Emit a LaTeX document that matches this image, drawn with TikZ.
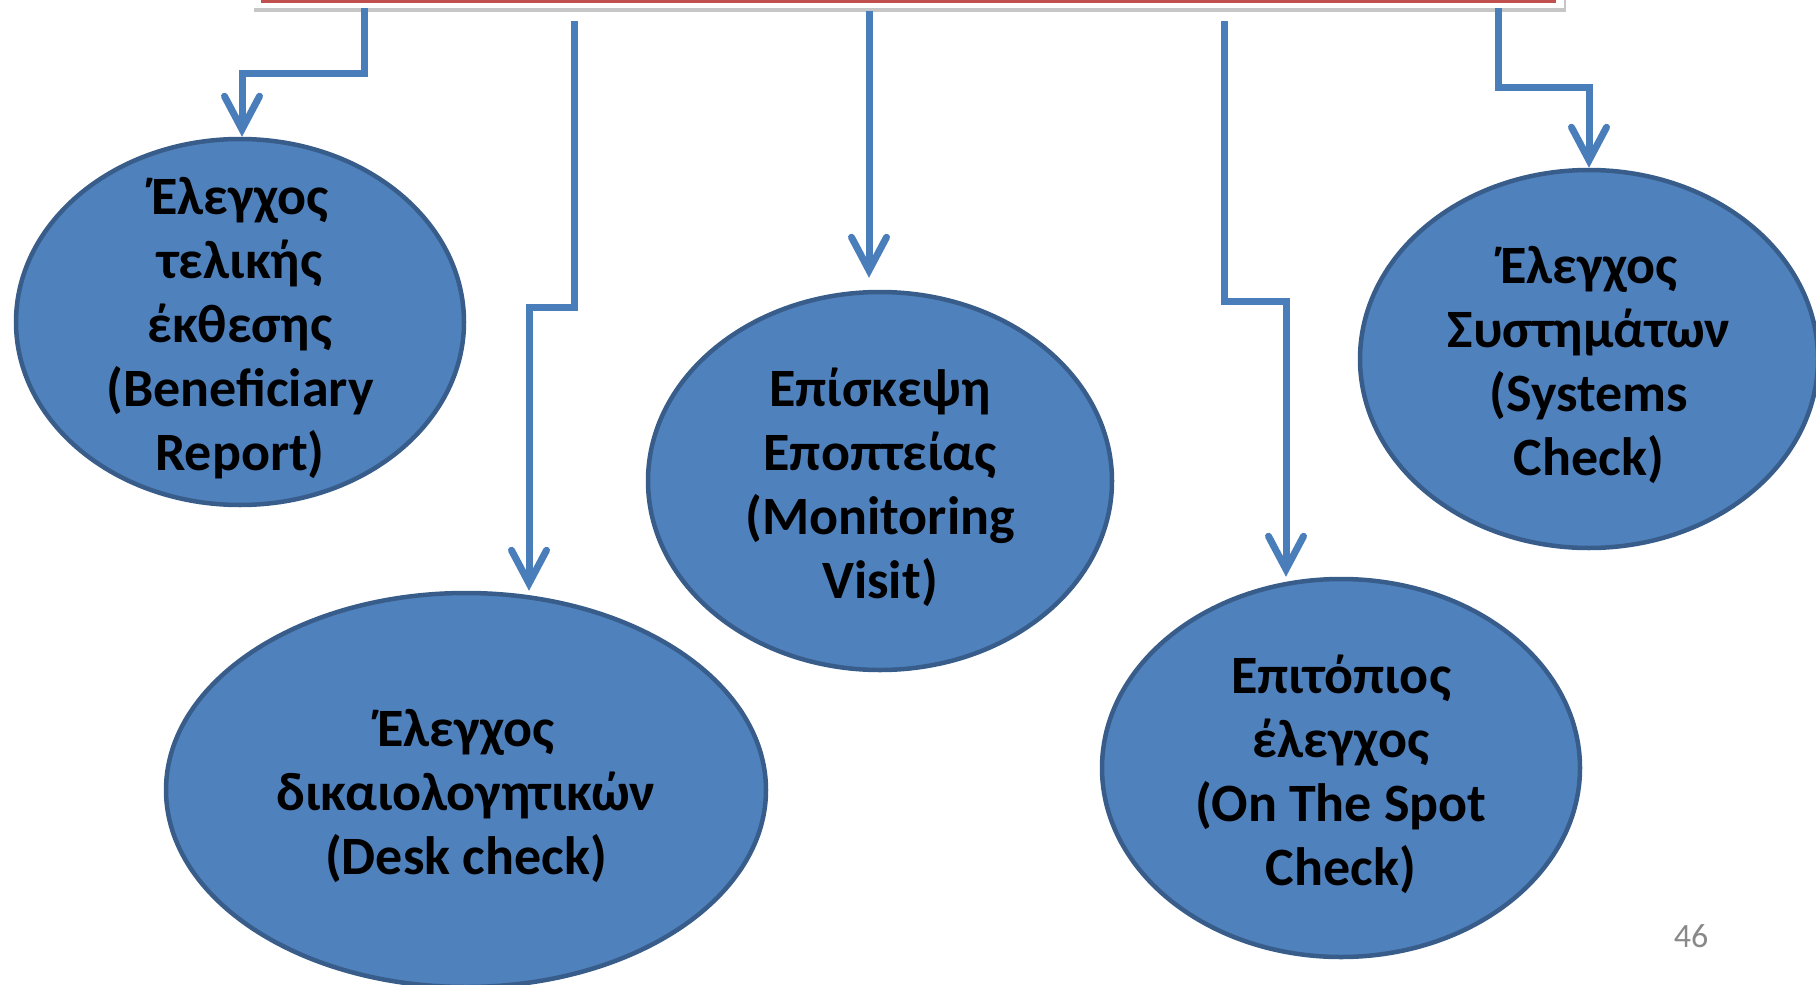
\documentclass[tikz,border=0pt]{standalone}
\usepackage{fontspec}
\setmainfont{Carlito}
\usetikzlibrary{shapes.geometric, arrows.meta, shadows}

\definecolor{ovalfill}{HTML}{4F81BD}
\definecolor{ovaledge}{HTML}{385D8A}
\definecolor{linkblue}{HTML}{4A7EBB}
\definecolor{titlered}{HTML}{C0504D}
\definecolor{pagegray}{HTML}{898989}

\begin{document}
\begin{tikzpicture}[x=1pt, y=-1pt,
  oval/.style={ellipse, draw=ovaledge, line width=4.5pt, fill=ovalfill, inner sep=0pt},
  ovaltext/.style={align=center, text=black, yshift=-6pt, font=\fontsize{54}{64}\selectfont\bfseries},
  link/.style={draw=linkblue, line width=7pt, -{Straight Barb[length=33pt, width=35pt, line cap=round]}}]

  \useasboundingbox (0,0) rectangle (1816,985);

  % Panel at the top, cut by the page edge
  \node[fill=white, drop shadow={shadow xshift=2pt, shadow yshift=-4pt, opacity=0.45, fill=gray},
        minimum width=1312pt, minimum height=70pt, inner sep=0pt] (panel) at (908,-27) {};
  \draw[titlered, line width=2.5pt] (261,1.5) -- (1556,1.5);

  % Ovals
  \node[oval, minimum width=448pt, minimum height=366pt,
        label={[ovaltext]center:{Έλεγχος\\τελικής\\έκθεσης\\(Beneficiary\\Report)}}] (report) at (240,322) {};
  \node[oval, minimum width=600pt, minimum height=394pt,
        label={[ovaltext]center:{Έλεγχος\\δικαιολογητικών\\(Desk check)}}] (desk) at (466,790) {};
  \node[oval, minimum width=464pt, minimum height=378pt,
        label={[ovaltext]center:{Επίσκεψη\\Εποπτείας\\(Monitoring\\Visit)}}] (visit) at (880,481) {};
  \node[oval, minimum width=478pt, minimum height=378pt,
        label={[ovaltext]center:{Επιτόπιος\\έλεγχος\\(On The Spot\\Check)}}] (spot) at (1341,768) {};
  \node[oval, minimum width=458pt, minimum height=378pt,
        label={[ovaltext]center:{Έλεγχος\\Συστημάτων\\(Systems\\Check)}}] (systems) at (1589,359) {};

  % Page number
  \node[text=pagegray, font=\fontsize{34}{40}\selectfont] (page) at (1691,936) {46};

  % Start and bend points of the links
  \coordinate (s1) at (364,8);
  \coordinate (s2) at (574,21);
  \coordinate (s3) at (869,11);
  \coordinate (s4) at (1224,21);
  \coordinate (s5) at (1498,8);
  \coordinate (b1) at (242,73);
  \coordinate (b2) at (529,307);
  \coordinate (b4) at (1286,301);
  \coordinate (b5) at (1589,87);

  % Links from the panel down to the ovals
  \draw[link] (s1) |- (b1) -- (b1 |- report.north);
  \draw[link] (s2) |- (b2) -- (b2 |- desk.north);
  \draw[link, shorten >=12pt] (s3) -- (s3 |- visit.north);
  \draw[link] (s4) |- (b4) -- (b4 |- spot.north);
  \draw[link] (s5) |- (b5) -- (b5 |- systems.north);

\end{tikzpicture}
\end{document}
